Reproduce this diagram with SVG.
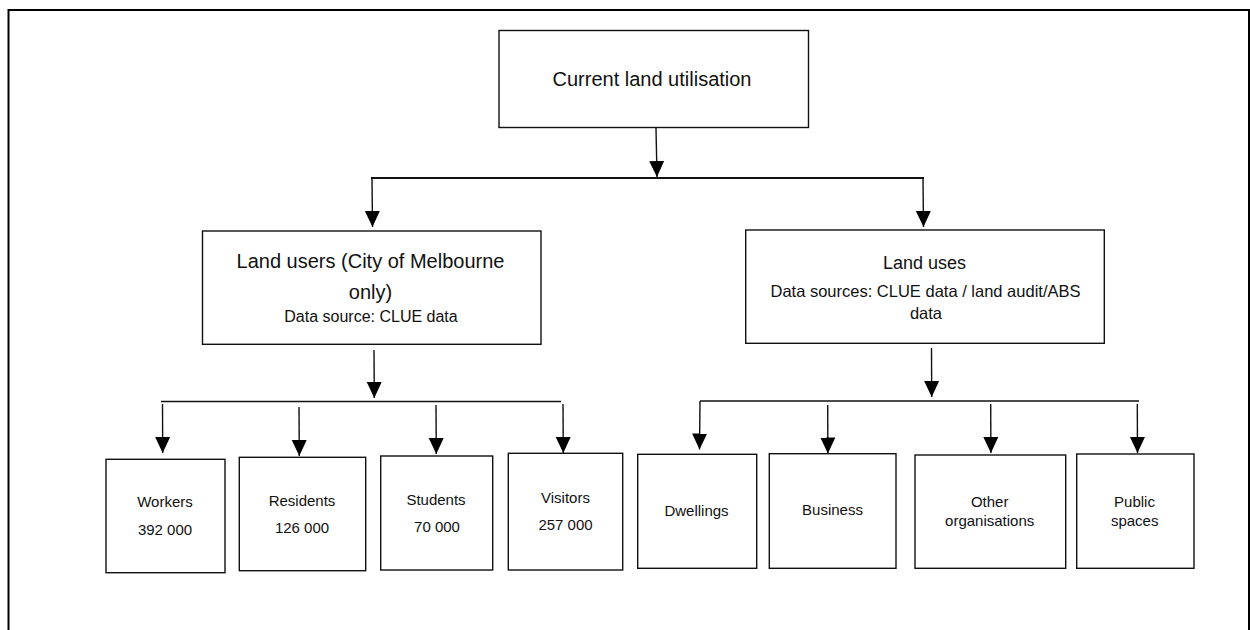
<svg xmlns="http://www.w3.org/2000/svg" width="1250" height="630" viewBox="0 0 1250 630">
<style>
.box{fill:#fff;stroke:#111;stroke-width:1.4}
.t{font-family:"Liberation Sans",Arial,sans-serif;fill:#111;text-anchor:middle}
.c{stroke:#111;stroke-width:1.4;fill:none}
.bus{stroke:#111;stroke-width:2;fill:none}
</style>
<defs>
<marker id="ah" markerUnits="userSpaceOnUse" markerWidth="16" markerHeight="16" viewBox="0 0 16 16" refX="16" refY="8" orient="auto">
<path d="M0,0.5 L16,8 L0,15.5 z" fill="#000"/>
</marker>
</defs>
<rect width="1250" height="630" fill="#fff"/>
<path d="M8.5,632 V10 H1249 V632" fill="none" stroke="#000" stroke-width="2"/>
<g id="connectors">
<line class="c" x1="656" y1="128" x2="657" y2="177" marker-end="url(#ah)"/>
<line class="bus" x1="371" y1="178" x2="924" y2="178"/>
<line class="c" x1="372" y1="179" x2="372.5" y2="227" marker-end="url(#ah)"/>
<line class="c" x1="923" y1="179" x2="923.5" y2="227" marker-end="url(#ah)"/>
<line class="c" x1="374" y1="350" x2="374.3" y2="398" marker-end="url(#ah)"/>
<line class="bus" x1="161" y1="401.5" x2="561" y2="401.5" style="stroke-width:1.6"/>
<line class="c" x1="162.5" y1="404" x2="162.7" y2="453" marker-end="url(#ah)"/>
<line class="c" x1="299" y1="407" x2="299.3" y2="456" marker-end="url(#ah)"/>
<line class="c" x1="436" y1="405" x2="436.3" y2="454" marker-end="url(#ah)"/>
<line class="c" x1="563" y1="404" x2="563.3" y2="453" marker-end="url(#ah)"/>
<line class="c" x1="931.5" y1="348" x2="931.7" y2="397" marker-end="url(#ah)"/>
<line class="bus" x1="700" y1="401" x2="1139" y2="401" style="stroke-width:1.6"/>
<line class="c" x1="700" y1="401" x2="699.5" y2="449.5" marker-end="url(#ah)"/>
<line class="c" x1="827.7" y1="405" x2="827.9" y2="453.5" marker-end="url(#ah)"/>
<line class="c" x1="990.7" y1="404" x2="990.9" y2="453" marker-end="url(#ah)"/>
<line class="c" x1="1137.3" y1="404" x2="1137.5" y2="453" marker-end="url(#ah)"/>
</g>
<g id="current">
<rect class="box" x="499" y="30.5" width="309.5" height="97"/>
<text class="t" x="652" y="85.5" font-size="20">Current land utilisation</text>
</g>
<g id="landusers">
<rect class="box" x="202.5" y="231" width="338.5" height="113.3"/>
<text class="t" x="370.5" y="268" font-size="20">Land users (City of Melbourne</text>
<text class="t" x="370.5" y="299" font-size="20">only)</text>
<text class="t" x="371" y="322" font-size="16">Data source: CLUE data</text>
</g>
<g id="landuses">
<rect class="box" x="745.7" y="230" width="358.6" height="113.3"/>
<text class="t" x="924.5" y="269" font-size="18">Land uses</text>
<text class="t" x="925.5" y="297" font-size="16.5">Data sources: CLUE data / land audit/ABS</text>
<text class="t" x="926" y="318.5" font-size="16.5">data</text>
</g>
<g id="workers">
<rect class="box" x="106" y="459.3" width="119" height="113.4"/>
<text class="t" x="165" y="506.5" font-size="15">Workers</text>
<text class="t" x="165" y="535" font-size="15">392 000</text>
</g>
<g id="residents">
<rect class="box" x="239.3" y="457.3" width="126.4" height="113.4"/>
<text class="t" x="302" y="505.5" font-size="15">Residents</text>
<text class="t" x="302" y="533.3" font-size="15">126 000</text>
</g>
<g id="students">
<rect class="box" x="380.7" y="456" width="112" height="114"/>
<text class="t" x="436" y="505" font-size="15">Students</text>
<text class="t" x="437" y="531.7" font-size="15">70 000</text>
</g>
<g id="visitors">
<rect class="box" x="508.3" y="453.3" width="114.4" height="116.7"/>
<text class="t" x="565.5" y="503.3" font-size="15">Visitors</text>
<text class="t" x="565.5" y="530" font-size="15">257 000</text>
</g>
<g id="dwellings">
<rect class="box" x="637.7" y="454.3" width="119" height="114"/>
<text class="t" x="696.5" y="516" font-size="15">Dwellings</text>
</g>
<g id="business">
<rect class="box" x="769.3" y="453.7" width="126.7" height="114.6"/>
<text class="t" x="832.5" y="515" font-size="15">Business</text>
</g>
<g id="other">
<rect class="box" x="915" y="455" width="150.7" height="113.3"/>
<text class="t" x="989.7" y="506.7" font-size="15">Other</text>
<text class="t" x="989.7" y="525.7" font-size="15">organisations</text>
</g>
<g id="public">
<rect class="box" x="1076.7" y="454" width="117.3" height="114.3"/>
<text class="t" x="1134.5" y="506.7" font-size="15">Public</text>
<text class="t" x="1134.7" y="525.7" font-size="15">spaces</text>
</g>
</svg>
